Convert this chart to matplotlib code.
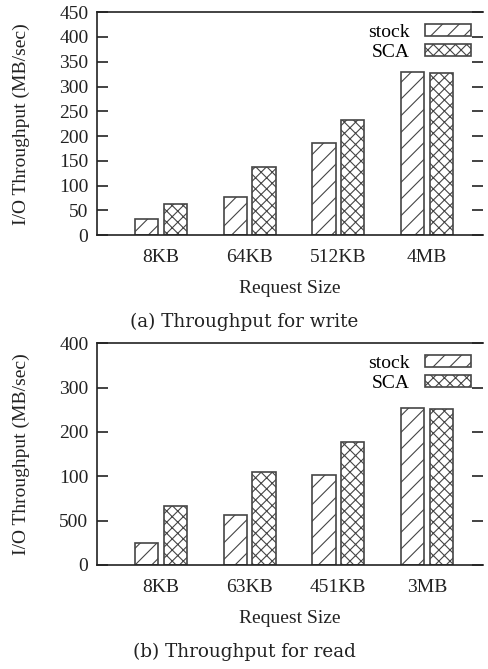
import matplotlib
matplotlib.use("Agg")
import matplotlib.pyplot as plt
import numpy as np

plt.rcParams['font.family'] = ['Liberation Serif', 'DejaVu Serif']
plt.rcParams['hatch.linewidth'] = 0.8
plt.rcParams['hatch.color'] = '#454545'

series = ['stock', 'SCA']
hatches = ['//', 'xxx']

# (a) write
write_sizes = ['8KB', '64KB', '512KB', '4MB']
write_stock = [33, 76, 185, 329]
write_sca = [62, 138, 232, 327]
write_ticks = [0, 50, 100, 150, 200, 250, 300, 350, 400, 450]
write_ticklabels = ['0', '50', '100', '150', '200', '250', '300', '350', '400', '450']

# (b) read -- tick labels are printed as in the original figure
read_sizes = ['8KB', '63KB', '451KB', '3MB']
read_stock = [24.4, 56.8, 102, 177.4]
read_sca = [67, 104.5, 139, 176.3]
read_ticks = [0, 50, 100, 150, 200, 250]
read_ticklabels = ['0', '500', '100', '200', '300', '400']

fig = plt.figure(figsize=(4.89, 6.69), dpi=100)
FS = 14


def panel(rect, sizes, stock, sca, ticks, ticklabels, caption, cap_y):
    ax = fig.add_axes(rect)
    x = np.arange(len(sizes))
    w = 0.265
    for vals, off, lab, h in zip([stock, sca], [-0.163, 0.163], series, hatches):
        ax.bar(x + off, vals, w, label=lab, hatch=h, facecolor='white',
               edgecolor='#454545', linewidth=1.2)
    ax.set_xlim(-0.726, 3.635)
    ax.set_ylim(ticks[0], ticks[-1])
    ax.set_yticks(ticks)
    ax.set_yticklabels(ticklabels)
    ax.set_xticks(x)
    ax.set_xticklabels(sizes)
    ax.spines['right'].set_visible(False)
    for s in ['left', 'top', 'bottom']:
        ax.spines[s].set_linewidth(1.2)
        ax.spines[s].set_color('#222222')
    ax.tick_params(axis='y', direction='in', length=8, width=1.2, pad=6,
                   right=True, labelsize=FS, colors='#222222')
    ax.tick_params(axis='x', length=0, pad=10, labelsize=FS, colors='#222222')
    ax.set_xlabel('Request Size', fontsize=FS, labelpad=10, color='#222222')
    ax.set_ylabel('I/O Throughput (MB/sec)', fontsize=FS, labelpad=21, color='#222222')
    ax.legend(loc='upper right', markerfirst=False, frameon=False, fontsize=FS,
              handlelength=2.4, handleheight=0.55, handletextpad=0.75,
              labelspacing=0.15, borderaxespad=0.2)
    fig.text(0.5, cap_y, caption, ha='center', va='center', fontsize=13.2,
             family='DejaVu Serif', color='#222222')
    return ax


panel([0.198, 0.6487, 0.790, 0.333], write_sizes, write_stock, write_sca,
      write_ticks, write_ticklabels, '(a) Throughput for write', 1 - 322 / 669)
panel([0.198, 0.1555, 0.790, 0.3313], read_sizes, read_stock, read_sca,
      read_ticks, read_ticklabels, '(b) Throughput for read', 1 - 652 / 669)

fig.savefig('out.png', dpi=100)
